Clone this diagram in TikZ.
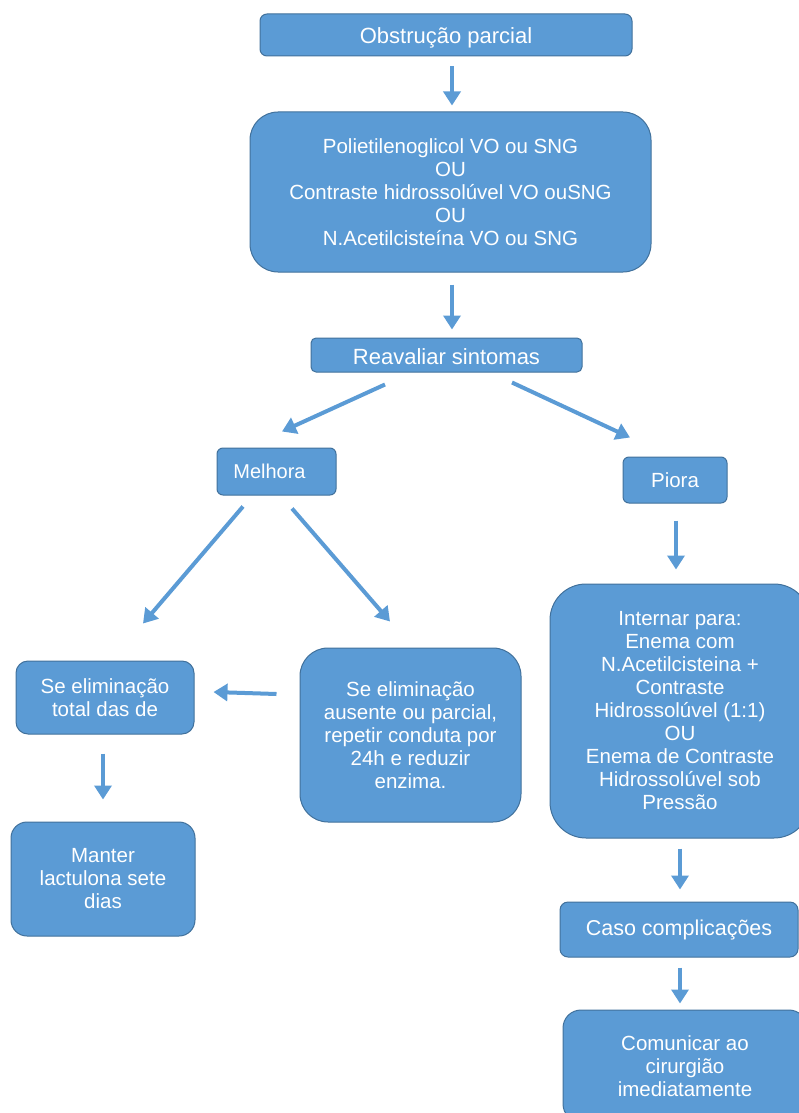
\documentclass[tikz,border=0pt]{standalone}
\usepackage{fontspec}
\setmainfont{Liberation Sans}
\usetikzlibrary{arrows.meta}
\definecolor{boxfill}{HTML}{5B9BD5}
\definecolor{boxline}{HTML}{41719C}
\newcommand{\lowered}[2]{\raisebox{-#1}[\height][\depth]{#2}}
\begin{document}
\begin{tikzpicture}[x=1pt,y=-1pt,
  box/.style={draw=boxline, line width=1pt, fill=boxfill, text=white,
    rectangle, align=center, inner sep=0pt,
    font=\fontsize{20.5}{23}\selectfont},
  big/.style={font=\fontsize{22}{24}\selectfont},
  arr/.style={draw=boxfill, line width=4pt,
    -{Triangle[length=14pt,width=17pt]}}]
\useasboundingbox (0,0) rectangle (798,1113);

% boxes
\node[box, big, rounded corners=7pt, minimum width=372pt, minimum height=42pt] (obs) at (446,35) {\lowered{3pt}{Obstrução parcial}};
\node[box, rounded corners=28pt, minimum width=401pt, minimum height=160pt] (poly) at (450.5,192)
  {Polietilenoglicol VO ou SNG\\OU\\Contraste hidrossolúvel VO ouSNG\\OU\\N.Acetilcisteína VO ou SNG};
\node[box, big, rounded corners=5pt, minimum width=271pt, minimum height=34pt] (reav) at (446.5,355) {\lowered{2pt}{Reavaliar sintomas}};
\node[box, font=\fontsize{20}{23}\selectfont, rounded corners=6pt, minimum width=119pt, minimum height=47pt] (melh) at (276.5,471.5) {Melhora\hspace{14pt}};
\node[box, rounded corners=6pt, minimum width=104pt, minimum height=46pt] (piora) at (675,480) {Piora};
\node[box, rounded corners=36pt, minimum width=260pt, minimum height=254pt] (intern) at (680,711)
  {Internar para:\\Enema com\\N.Acetilcisteina +\\Contraste\\Hidrossolúvel (1:1)\\OU\\Enema de Contraste\\Hidrossolúvel sob\\Pressão};
\node[box, rounded corners=28pt, minimum width=221pt, minimum height=174pt] (ausente) at (410.5,735)
  {Se eliminação\\ausente ou parcial,\\repetir conduta por\\24h e reduzir\\enzima.};
\node[box, rounded corners=12pt, minimum width=178pt, minimum height=73pt] (total) at (105,697.5)
  {Se eliminação\\total das de};
\node[box, rounded corners=16pt, minimum width=184pt, minimum height=114pt] (manter) at (103,879)
  {Manter\\lactulona sete\\dias};
\node[box, font=\fontsize{21.5}{24}\selectfont, rounded corners=8pt, minimum width=238pt, minimum height=55pt] (caso) at (679,929.5) {Caso complicações};
\node[box, rounded corners=18pt, minimum width=244pt, minimum height=112pt] (comun) at (685,1066)
  {Comunicar ao\\cirurgião\\imediatamente};

% connectors
\draw[arr] ([xshift=6pt,yshift=-10pt]obs.south) -- ([xshift=1.5pt,yshift=6pt]poly.north);
\draw[arr] ([xshift=1.5pt,yshift=-12pt]poly.south) -- ([xshift=5.5pt,yshift=8pt]reav.north);
\draw[arr] ([xshift=-61.5pt,yshift=-12pt]reav.south) -- ([xshift=5.5pt,yshift=16pt]melh.north);
\draw[arr] ([xshift=65.5pt,yshift=-10pt]reav.south) -- ([xshift=-45pt,yshift=19pt]piora.north);
\draw[arr] ([xshift=1pt,yshift=-17pt]piora.south) -- ([xshift=-4pt,yshift=14pt]intern.north);
\draw[arr] ([xshift=-33.5pt,yshift=-11pt]melh.south) -- ([xshift=38pt,yshift=37pt]total.north);
\draw[arr] ([xshift=15.5pt,yshift=-13pt]melh.south) -- ([xshift=-20.5pt,yshift=26pt]ausente.north);
\draw[arr] ([xshift=-23pt,yshift=41pt]ausente.west) -- ([xshift=19pt,yshift=5.5pt]total.east);
\draw[arr] ([xshift=-2pt,yshift=-19pt]total.south) -- ([yshift=22pt]manter.north);
\draw[arr] ([yshift=-10pt]intern.south) -- ([xshift=1pt,yshift=12pt]caso.north);
\draw[arr] ([xshift=1pt,yshift=-10pt]caso.south) -- ([xshift=-5pt,yshift=6pt]comun.north);
\end{tikzpicture}
\end{document}
